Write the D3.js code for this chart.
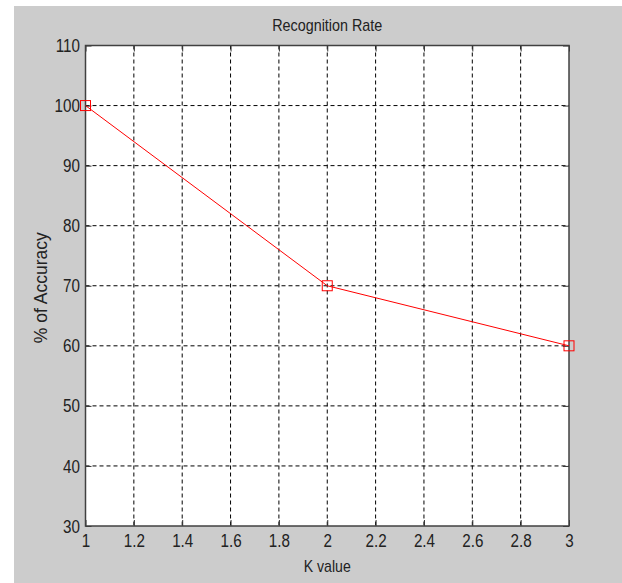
<!DOCTYPE html>
<html>
<head>
<meta charset="utf-8">
<script src="https://cdn.jsdelivr.net/npm/d3@7"></script>
<style>
  body { margin: 0; background: #fff; }
  text { font-family: "Liberation Sans", Arial, sans-serif; }
</style>
</head>
<body>
<div id="chart"></div>
<script>
// data
let k_values = [1, 2, 3];
let accuracy = [100, 70, 60];
let x_ticks = [1, 1.2, 1.4, 1.6, 1.8, 2, 2.2, 2.4, 2.6, 2.8, 3];
let y_ticks = [30, 40, 50, 60, 70, 80, 90, 100, 110];

let width = 622;
let height = 583;
let margin = {top: 45.5, right: 53, bottom: 57, left: 85.5};
let plot_width = width - margin.left - margin.right;
let plot_height = height - margin.top - margin.bottom;

let svg = d3.select("#chart")
            .append("svg")
            .attr("width", width)
            .attr("height", height);

// grey figure background
svg.append("rect")
   .attr("x", 14)
   .attr("y", 6)
   .attr("width", width - 14)
   .attr("height", height - 6)
   .style("fill", "#cccccc");

let g = svg.append("g")
           .attr("transform", "translate(" + margin.left + "," + margin.top + ")");

let x = d3.scaleLinear()
          .domain([1, 3])
          .range([0, plot_width]);

let y = d3.scaleLinear()
          .domain([30, 110])
          .range([plot_height, 0]);

g.append("rect")
 .attr("width", plot_width)
 .attr("height", plot_height)
 .style("fill", "#fff");

// dashed grid
g.selectAll(".xgrid")
 .data(x_ticks.slice(1, -1))
 .enter()
 .append("line")
 .attr("x1", d => x(d)).attr("x2", d => x(d))
 .attr("y1", 0).attr("y2", plot_height)
 .style("stroke", "#000")
 .style("stroke-width", 1)
 .style("stroke-dasharray", "4,3");

g.selectAll(".ygrid")
 .data(y_ticks.slice(1, -1))
 .enter()
 .append("line")
 .attr("x1", 0).attr("x2", plot_width)
 .attr("y1", d => y(d)).attr("y2", d => y(d))
 .style("stroke", "#000")
 .style("stroke-width", 1)
 .style("stroke-dasharray", "4,3");

// axes with inward ticks
let xAxis = d3.axisBottom(x).tickValues(x_ticks).tickSizeInner(-6).tickSizeOuter(0)
              .tickPadding(8).tickFormat(d3.format("~g"));
let yAxis = d3.axisLeft(y).tickValues(y_ticks).tickSizeInner(-6).tickSizeOuter(0)
              .tickPadding(7);

let gx = g.append("g")
          .attr("transform", "translate(0," + plot_height + ")")
          .call(xAxis);
let gy = g.append("g").call(yAxis);

g.append("g").call(d3.axisTop(x).tickValues(x_ticks).tickSizeInner(-6).tickSizeOuter(0).tickFormat(""));
g.append("g").attr("transform", "translate(" + plot_width + ",0)")
 .call(d3.axisRight(y).tickValues(y_ticks).tickSizeInner(-6).tickSizeOuter(0).tickFormat(""));

svg.selectAll(".domain").remove();
svg.selectAll(".tick line").style("stroke", "#333").style("stroke-width", 1);

// narrow tick labels like the original
[gx, gy].forEach(a => a.selectAll(".tick text")
   .attr("font-size", null)
   .style("font-size", "19px")
   .style("fill", "#222")
   .attr("transform", "scale(0.8,1)")
);

// frame
g.append("rect")
 .attr("width", plot_width)
 .attr("height", plot_height)
 .style("fill", "none")
 .style("stroke", "#404040")
 .style("stroke-width", 1.5);

// data line
let pts = k_values.map((k, i) => [k, accuracy[i]]);
g.append("path")
 .datum(pts)
 .attr("d", d3.line().x(d => x(d[0])).y(d => y(d[1])))
 .style("fill", "none")
 .style("stroke", "#ff0000")
 .style("stroke-width", 1);

g.selectAll(".marker")
 .data(pts)
 .enter()
 .append("rect")
 .attr("x", d => x(d[0]) - 5)
 .attr("y", d => y(d[1]) - 5)
 .attr("width", 10)
 .attr("height", 10)
 .style("fill", "none")
 .style("stroke", "#ff0000")
 .style("stroke-width", 1);

// labels
svg.append("text")
   .attr("x", margin.left + plot_width / 2)
   .attr("y", 31)
   .attr("text-anchor", "middle")
   .style("font-size", "17px")
   .style("fill", "#222")
   .attr("textLength", 110)
   .attr("lengthAdjust", "spacingAndGlyphs")
   .text("Recognition Rate");

svg.append("text")
   .attr("x", margin.left + plot_width / 2)
   .attr("y", 572)
   .attr("text-anchor", "middle")
   .style("font-size", "17px")
   .style("fill", "#222")
   .attr("textLength", 47)
   .attr("lengthAdjust", "spacingAndGlyphs")
   .text("K value");

svg.append("text")
   .attr("transform", "translate(47," + (margin.top + plot_height / 2 + 2) + ") rotate(-90)")
   .attr("text-anchor", "middle")
   .style("font-size", "17.5px")
   .style("fill", "#222")
   .text("% of Accuracy");
</script>
</body>
</html>
